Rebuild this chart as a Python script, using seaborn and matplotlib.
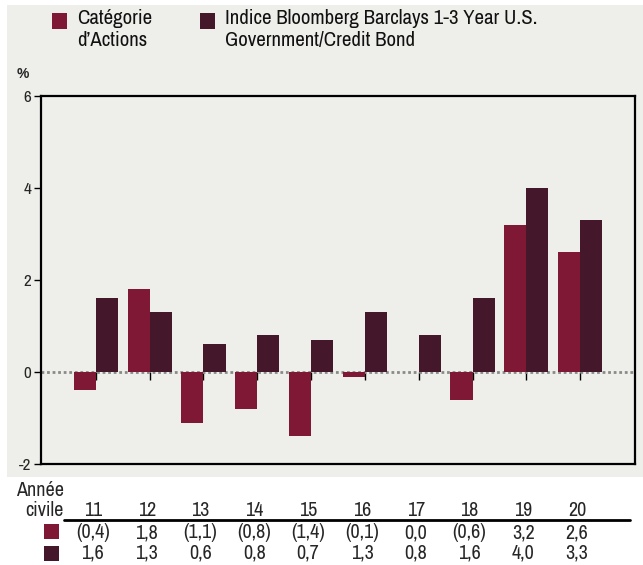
import numpy as np
import pandas as pd
import matplotlib
matplotlib.use("Agg")
import matplotlib.pyplot as plt
import seaborn as sns
from matplotlib.patches import Rectangle
from matplotlib.lines import Line2D
from matplotlib import transforms
from matplotlib import font_manager

# ---- data ----
years = ["11", "12", "13", "14", "15", "16", "17", "18", "19", "20"]
categorie = [-0.4, 1.8, -1.1, -0.8, -1.4, -0.1, 0.0, -0.6, 3.2, 2.6]
indice = [1.6, 1.3, 0.6, 0.8, 0.7, 1.3, 0.8, 1.6, 4.0, 3.3]
series_names = ["Catégorie\nd\u2019Actions",
                "Indice Bloomberg Barclays 1-3 Year U.S.\nGovernment/Credit Bond"]
y_ticks = [-2, 0, 2, 4, 6]

RED = "#7e1834"
DARK = "#44172a"
BG = "#eeeeea"

sns.set_theme(style="white")
narrow = [f for f in font_manager.fontManager.ttflist
          if "narrow" in f.fname.lower() and "bold" not in f.fname.lower()
          and "italic" not in f.fname.lower()]
if narrow:
    plt.rcParams["font.family"] = [narrow[0].name, "DejaVu Sans"]
    SCALE = 1.07
else:
    plt.rcParams["font.family"] = ["Liberation Sans", "DejaVu Sans"]
    SCALE = 0.9

df = pd.DataFrame({
    "year": years * 2,
    "value": categorie + indice,
    "series": [series_names[0]] * len(years) + [series_names[1]] * len(years),
})

W, H = 643, 565
fig = plt.figure(figsize=(W / 100, H / 100), dpi=100, facecolor="white")
fig.patches.append(Rectangle((7 / W, (H - 477) / H), 1 - 7 / W, (477 - 5) / H,
                             transform=fig.transFigure, facecolor=BG,
                             edgecolor="none", zorder=-10))

ax = fig.add_axes([41 / W, (H - 464) / H, (635 - 41) / W, (464 - 96) / H])
ax.set_facecolor(BG)
sns.barplot(data=df, x="year", y="value", hue="series",
            palette=[RED, DARK], width=0.82, dodge=True, saturation=1,
            legend=False, linewidth=0, ax=ax)
ax.set_xlim(-1.02, 10.02)
ax.set_ylim(-2, 6)
ax.set_yticks(y_ticks)
ax.set_yticklabels([str(t) for t in y_ticks], fontsize=11.5 * SCALE)
ax.tick_params(axis="y", direction="out", length=5, width=1, color="black",
               pad=2, left=True)
ax.tick_params(axis="x", length=0, labelbottom=False)
ax.set_xlabel("")
ax.set_ylabel("")
for s in ax.spines.values():
    s.set_visible(True)
    s.set_color("black")
    s.set_linewidth(1.6)
ax.axhline(0, color="#8a8a8a", linestyle=(0, (1, 1)), linewidth=2, zorder=0.5)

sec = ax.secondary_xaxis(0.25)
sec.set_xticks(range(len(years)))
sec.tick_params(axis="x", direction="out", length=6, width=1, color="black",
                labelbottom=False)
sec.spines["bottom"].set_visible(False)

fig.text(17 / W, 1 - 74 / H, "%", fontsize=10, fontweight="bold",
         family=["Liberation Sans", "DejaVu Sans"], ha="left", va="center")

leg = [(52, series_names[0], RED, 77), (200, series_names[1], DARK, 225)]
for x0, label, col, tx in leg:
    fig.patches.append(Rectangle((x0 / W, 1 - 29 / H), 15 / W, 16 / H,
                                 transform=fig.transFigure, facecolor=col,
                                 edgecolor="none"))
    fig.text(tx / W, 1 - 9 / H, label, fontsize=14 * SCALE, ha="left", va="top",
             linespacing=1.2, color="#111111")

tr = transforms.blended_transform_factory(ax.transData, fig.transFigure)
off = transforms.ScaledTranslation(-3 / 100, 0, fig.dpi_scale_trans)
TS = 13.5 * SCALE
fig.text(64 / W, 1 - 490 / H, "Année", fontsize=TS, ha="right", va="center")
fig.text(64 / W, 1 - 511 / H, "civile", fontsize=TS, ha="right", va="center")


def fmt(v):
    s = f"{abs(v):.1f}".replace(".", ",")
    return f"({s})" if v < 0 else s


for i, yr in enumerate(years):
    ax.text(i, 1 - 511 / H, yr, transform=tr + off, fontsize=TS,
            ha="center", va="center", clip_on=False)
    ax.text(i, 1 - 533 / H, fmt(categorie[i]), transform=tr + off,
            fontsize=TS, ha="center", va="center", clip_on=False)
    ax.text(i, 1 - 553 / H, fmt(indice[i]), transform=tr + off,
            fontsize=TS, ha="center", va="center", clip_on=False)

fig.add_artist(Line2D([64 / W, 630 / W], [1 - 520 / H, 1 - 520 / H],
                      transform=fig.transFigure, color="black", linewidth=2))
for ytop, col in [(524, RED), (546, DARK)]:
    fig.patches.append(Rectangle((44 / W, 1 - (ytop + 15) / H), 15 / W, 15 / H,
                                 transform=fig.transFigure, facecolor=col,
                                 edgecolor="none"))

fig.savefig("out.png", dpi=100, facecolor="white")
